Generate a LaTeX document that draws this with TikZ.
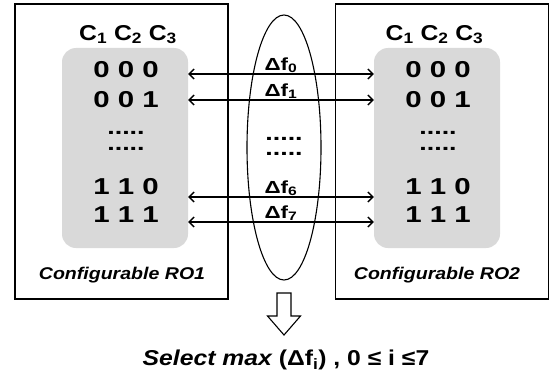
\documentclass[tikz,border=0pt]{standalone}
\usepackage{fontspec}
\setmainfont{Liberation Sans}
\newfontfamily\bitfont[FakeStretch=1.28]{Liberation Sans}
\newfontfamily\labelfont[FakeStretch=1.15]{Liberation Sans}
\usetikzlibrary{shapes.geometric}
\usetikzlibrary{arrows.meta}
\usetikzlibrary{positioning}
\tikzstyle{oscillator} = [rectangle, draw=black, line width=1.4pt, minimum width=213pt, minimum height=295pt]
\tikzstyle{bittable} = [rectangle, rounded corners=14pt, fill=black!15, minimum width=126pt, minimum height=200pt]
\tikzstyle{header} = [inner sep=0pt, font=\labelfont\bfseries\fontsize{21.5}{21.5}\selectfont]
\tikzstyle{bits} = [inner sep=0pt, font=\bitfont\bfseries\fontsize{23}{23}\selectfont]
\tikzstyle{gap} = [inner sep=0pt, align=center, font=\bitfont\bfseries\fontsize{21}{15.5}\selectfont]
\tikzstyle{delta} = [inner sep=1pt, anchor=south, font=\bitfont\bfseries\fontsize{17.5}{17.5}\selectfont]
\tikzstyle{roname} = [inner sep=0pt, font=\labelfont\bfseries\itshape\fontsize{17}{17}\selectfont]
\tikzstyle{arrow} = [line width=1.4pt,<->,>={Straight Barb[length=5pt,width=10pt]}]

\begin{document}
\begin{tikzpicture}[x=1pt, y=-1pt, node distance=312pt]
        \useasboundingbox (0,0) rectangle (553,385);

        % the two oscillators
        \node (ro1) [oscillator] at (121.5,151.5) {};
        \node (ro2) [oscillator] at (442,151.5) {};
        \node (tab1) [bittable] at (125,148) {};
        \node (tab2) [bittable, right of=tab1] {};

        \node (hdr1) [header] at (128,34.5) {C\textsubscript{1} C\textsubscript{2} C\textsubscript{3}};
        \node (hdr2) [header] at (434.5,34.5) {C\textsubscript{1} C\textsubscript{2} C\textsubscript{3}};

        \node (l0) [bits] at (126,69.5) {0 0 0};
        \node (l1) [bits] at (126,99.5) {0 0 1};
        \node (ldots) [gap] at (126,141) {.....\\.....};
        \node (l6) [bits] at (126,186.5) {1 1 0};
        \node (l7) [bits] at (126,215) {1 1 1};

        \node (r0) [bits, right of=l0] {0 0 0};
        \node (r1) [bits, right of=l1] {0 0 1};
        \node (rdots) [gap, right of=ldots] {.....\\.....};
        \node (r6) [bits, right of=l6] {1 1 0};
        \node (r7) [bits, right of=l7] {1 1 1};

        \node (name1) [roname] at (122,275) {Configurable RO1};
        \node (name2) [roname] at (437,275) {Configurable RO2};

        % frequency differences
        \node (link) [ellipse, draw, line width=1.1pt, minimum width=74pt, minimum height=265pt, inner sep=0pt] at (284,147.5) {};
        \node (f0) [delta] at (281,74) {Δf\textsubscript{0}};
        \node (f1) [delta] at (281,100) {Δf\textsubscript{1}};
        \node (mdots) [gap] at (284,146.5) {.....\\.....};
        \node (f6) [delta] at (281,197) {Δf\textsubscript{6}};
        \node (f7) [delta] at (281,222) {Δf\textsubscript{7}};

        \draw [arrow] (tab1.east |- f0.south) -- (tab2.west |- f0.south);
        \draw [arrow] (tab1.east |- f1.south) -- (tab2.west |- f1.south);
        \draw [arrow] (tab1.east |- f6.south) -- (tab2.west |- f6.south);
        \draw [arrow] (tab1.east |- f7.south) -- (tab2.west |- f7.south);

        % selection
        \coordinate (pick) at (284,293);
        \draw [line width=1.1pt] (pick) +(-7,0) -- +(-7,23) -- +(-16.5,23) -- +(0,42) -- +(16.5,23) -- +(7,23) -- +(7,0) -- cycle;
        \node (result) [header] at (286,360) {\itshape Select max \upshape(Δf\textsubscript{i}) , 0 ≤ i ≤7};
    \end{tikzpicture}
\end{document}
